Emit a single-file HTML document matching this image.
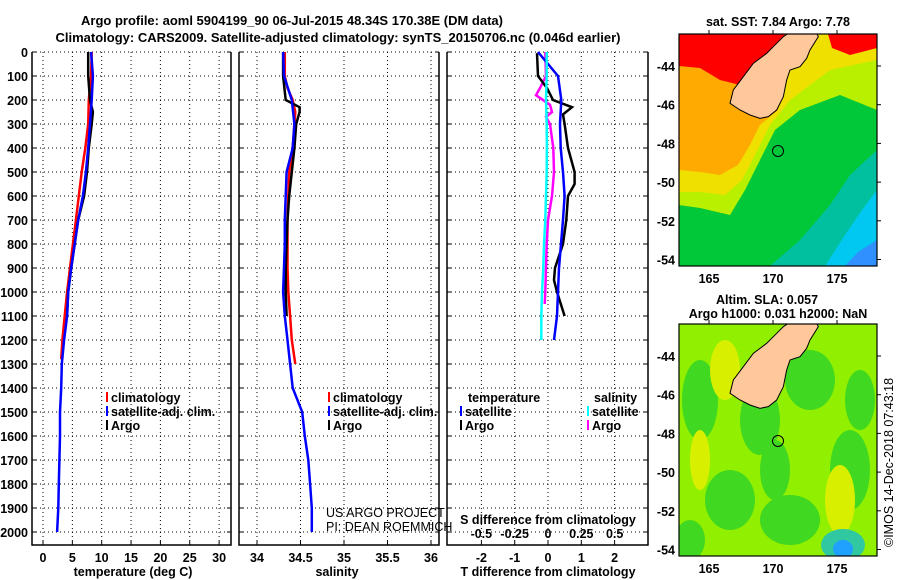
<!DOCTYPE html>
<html><head><meta charset="utf-8"><style>
body{margin:0;background:#fff;}
svg{display:block;font-family:"Liberation Sans",Arial,sans-serif;}
.b{font-weight:bold;font-size:13px;}
.t{font-weight:bold;font-size:12.5px;}
</style></head><body>
<svg id="c" width="900" height="580" viewBox="0 0 900 580">
<g id="maps"></g>
<g id="plots"></g>
<text class="b" x="292" y="25" text-anchor="middle">Argo profile: aoml 5904199_90 06-Jul-2015 48.34S 170.38E (DM data)</text>
<text class="b" x="338" y="42" text-anchor="middle">Climatology: CARS2009. Satellite-adjusted climatology: synTS_20150706.nc (0.046d earlier)</text>
</svg>
<script>
// ---- data ----
const tDepth=[0,100,200,250,300,400,500,600,700,800,900,1000,1100];
const tArgo=[7.7,7.7,8.0,8.5,8.3,7.8,7.5,7.0,6.0,5.4,4.8,4.3,4.1];
const tClimDepth=[0,100,200,300,400,500,600,700,800,900,1000,1100,1200,1280];
const tClim=[8.3,8.2,7.8,7.7,7.2,6.6,6.1,5.6,5.1,4.6,4.1,3.7,3.3,3.1];
const satDepth=[0,100,200,300,400,500,600,700,800,900,1000,1100,1200,1300,1400,1500,1600,1700,1800,1900,2000];
const tSat=[8.2,8.5,8.3,8.0,7.7,7.3,6.8,6.0,5.4,4.8,4.3,4.1,3.6,3.2,3.1,2.9,2.9,2.8,2.7,2.6,2.4];
const sArgoDepth=[0,100,200,230,250,300,400,500,600,700,800,900,1000,1100];
const sArgo=[34.30,34.30,34.33,34.49,34.49,34.45,34.43,34.40,34.37,34.35,34.34,34.33,34.33,34.34];
const sClimDepth=[0,100,150,200,250,300,400,500,600,700,800,900,1000,1100,1200,1300];
const sClim=[34.32,34.32,34.35,34.41,34.44,34.43,34.41,34.37,34.36,34.35,34.35,34.35,34.36,34.38,34.40,34.44];
const sSat=[34.30,34.31,34.40,34.43,34.41,34.34,34.33,34.32,34.32,34.31,34.30,34.32,34.35,34.38,34.41,34.52,34.55,34.59,34.61,34.63,34.63];
const dtArgoDepth=[5,100,150,200,230,260,300,400,500,550,600,700,800,900,950,1000,1100];
const dtArgo=[-0.33,-0.3,-0.03,0.15,0.72,0.45,0.5,0.6,0.8,0.8,0.6,0.55,0.45,0.21,0.18,0.27,0.5];
const dtSatDepth=[0,100,200,300,400,500,600,700,800,900,1000,1100,1200];
const dtSat=[-0.3,0.3,0.4,0.36,0.38,0.45,0.5,0.45,0.39,0.33,0.3,0.27,0.18];
const dsArgoDepth=[0,100,150,180,220,250,270,300,400,500,600,700,800,900,1000,1050];
const dsArgo=[-0.02,-0.015,-0.06,-0.09,0.015,0.03,-0.015,0.015,0.04,0.045,0.03,0,-0.01,-0.015,-0.02,-0.025];
const dsSatDepth=[0,100,200,300,400,500,600,700,800,900,1000,1100,1200];
const dsSat=[-0.01,-0.01,-0.015,-0.01,-0.008,-0.01,-0.015,-0.02,-0.03,-0.035,-0.045,-0.05,-0.05];
const depthTicks=[0,100,200,300,400,500,600,700,800,900,1000,1100,1200,1300,1400,1500,1600,1700,1800,1900,2000];
const tTicks=[0,5,10,15,20,25,30];
const sTicks=[34,34.5,35,35.5,36];
const sTickLabels=["34","34.5","35","35.5","36"];
const dTicks=[-2,-1,0,1,2];
const dsTicks=[-0.5,-0.25,0,0.25,0.5];
const dsTickLabels=["-0.5","-0.25","0","0.25","0.5"];
const lonTicks=[165,170,175];
const latTicks=[-44,-46,-48,-50,-52,-54];

const NS="http://www.w3.org/2000/svg";
function mk(tag,at,parent){const e=document.createElementNS(NS,tag);for(const k in at)e.setAttribute(k,at[k]);parent.appendChild(e);return e;}
const plots=document.getElementById('plots');
const TOP=52,BOT=545;
const yD=d=>TOP+d*0.24;
const panels=[
 {x0:32,x1:231,f:v=>43+v*5.87,ticks:tTicks,labels:tTicks.map(String),title:"temperature (deg C)",tx:133},
 {x0:239,x1:439,f:v=>257+(v-34)*87,ticks:sTicks,labels:sTickLabels,title:"salinity",tx:337},
 {x0:447,x1:648,f:v=>548+v*33.3,ticks:dTicks,labels:dTicks.map(String),title:"T difference from climatology",tx:548}
];
const fS=v=>548+v*133.3;
panels.forEach((p,i)=>{
 const g=mk('g',{},plots);
 
 
 depthTicks.forEach(d=>{
  const y=yD(d);
  const l=mk('line',{x1:p.x0,x2:p.x1,y1:y,y2:y,stroke:'#000','stroke-width':1,'stroke-dasharray':'1,3'},g);
  
  
  mk('line',{x1:p.x0,x2:p.x0+4,y1:y,y2:y,stroke:'#000'},g);
  mk('line',{x1:p.x1-4,x2:p.x1,y1:y,y2:y,stroke:'#000'},g);
  if(i===0){const t=mk('text',{x:28,y:y+5,'text-anchor':'end',class:'t'},g);t.textContent=d;
   }
 });
 p.ticks.forEach((v,k)=>{
  const x=p.f(v);
  mk('line',{x1:x,x2:x,y1:TOP,y2:BOT,stroke:'#000','stroke-width':1,'stroke-dasharray':'1,3'},g);
  mk('line',{x1:x,x2:x,y1:BOT-4,y2:BOT,stroke:'#000'},g);
  const t=mk('text',{x:x,y:BOT+17,'text-anchor':'middle',class:'t'},g);t.textContent=p.labels[k];
  
 });
 const tt=mk('text',{x:p.tx,y:576,'text-anchor':'middle',class:'t'},g);tt.textContent=p.title;
 
 mk('path',{d:`M${p.x0},${TOP}V${BOT}H${p.x1}V${TOP}`,fill:'none',stroke:'#000','stroke-width':1.5},g);
 p.g=g;
});
function line(g,depths,vals,f,color,name){
 const pts=depths.map((d,k)=>f(vals[k]).toFixed(1)+','+yD(d).toFixed(1)).join(' ');
 const e=mk('polyline',{points:pts,fill:'none',stroke:color,'stroke-width':2.5},g);
 
 
}
const P=panels;
line(P[0].g,tClimDepth,tClim,P[0].f,'#ff0000','temp-climatology-line');
line(P[0].g,tDepth,tArgo,P[0].f,'#000','temp-argo-line');
line(P[0].g,satDepth,tSat,P[0].f,'#0000ff','temp-satellite-line');
line(P[1].g,sClimDepth,sClim,P[1].f,'#ff0000','sal-climatology-line');
line(P[1].g,sArgoDepth,sArgo,P[1].f,'#000','sal-argo-line');
line(P[1].g,satDepth,sSat,P[1].f,'#0000ff','sal-satellite-line');
line(P[2].g,dsArgoDepth,dsArgo,fS,'#ff00ff','sdiff-argo-line');
line(P[2].g,dtArgoDepth,dtArgo,P[2].f,'#000','tdiff-argo-line');
line(P[2].g,dtSatDepth,dtSat,P[2].f,'#0000ff','tdiff-satellite-line');
line(P[2].g,dsSatDepth,dsSat,fS,'#00ffff','sdiff-satellite-line');
const sg=P[2].g;
const st=mk('text',{x:548,y:524,'text-anchor':'middle',class:'t'},sg);st.textContent='S difference from climatology';

dsTicks.forEach((v,k)=>{const t=mk('text',{x:fS(v),y:538,'text-anchor':'middle',class:'t'},sg);t.textContent=dsTickLabels[k];
 });
function leg(g,x,y,color,label,name){
 const gg=mk('g',{},g);
 if(color)mk('rect',{x:x,y:y-10,width:2,height:10,fill:color},gg);
 const t=mk('text',{x:x+5,y:y,class:'t'},gg);t.textContent=label;
}
leg(P[0].g,106,402,'#ff0000','climatology','legend-climatology');
leg(P[0].g,106,416,'#0000ff','satellite-adj. clim.','legend-satellite');
leg(P[0].g,106,430,'#000','Argo','legend-argo');
leg(P[1].g,328,402,'#ff0000','climatology','legend-climatology');
leg(P[1].g,328,416,'#0000ff','satellite-adj. clim.','legend-satellite');
leg(P[1].g,328,430,'#000','Argo','legend-argo');
leg(P[2].g,463,402,null,'temperature','legend-temperature-heading');
leg(P[2].g,460,416,'#0000ff','satellite','legend-t-satellite');
leg(P[2].g,460,430,'#000','Argo','legend-t-argo');
leg(P[2].g,589,402,null,'salinity','legend-salinity-heading');
leg(P[2].g,587,416,'#00ffff','satellite','legend-s-satellite');
leg(P[2].g,587,430,'#ff00ff','Argo','legend-s-argo');
const c1=mk('text',{x:326,y:517,'font-size':'12.5px'},plots);c1.textContent='US ARGO PROJECT';

const c2=mk('text',{x:326,y:531,'font-size':'12.5px'},plots);c2.textContent='PI: DEAN ROEMMICH';


// ---- maps ----
const maps=document.getElementById('maps');
const landZ=[[415,100],[500,100],[505,110],[480,150],[470,175],[450,200],[420,210],[410,240],[400,290],[380,330],[355,350],[330,355],[300,345],[270,330],[240,310],[250,270],[280,230],[310,190],[350,160],[380,130],[400,110]];
function poly(g,pts,fill,dy){return mk('polygon',{points:pts.map(p=>p[0]+','+(p[1]+dy)).join(' '),fill:fill},g);}
function drawMap(top,kind,name){
 const g=mk('g',{},maps);
 const L=679,W=198,H=232,dy=top-34;
 const cid='clip'+top;
 const cp=mk('clipPath',{id:cid},g);mk('rect',{x:L,y:top,width:W,height:H},cp);
 const inner=mk('g',{'clip-path':`url(#${cid})`},g);
 if(kind==='sst'){
  mk('rect',{x:L,y:top,width:W,height:H,fill:'#00c838'},inner);
  poly(inner,[[679,34],[877,34],[877,110],[840,95],[800,110],[775,130],[760,160],[745,190],[730,215],[700,208],[679,205]],'#b8f000',dy);
  poly(inner,[[679,34],[877,34],[877,60],[830,70],[790,100],[770,125],[755,155],[742,180],[725,195],[700,192],[679,192]],'#f0e000',dy);
  poly(inner,[[679,34],[800,34],[778,110],[760,125],[750,145],[738,165],[720,175],[700,172],[679,170]],'#ffaa00',dy);
  poly(inner,[[679,34],[785,34],[770,60],[755,80],[740,85],[720,80],[700,68],[679,66]],'#ff0000',dy);
  poly(inner,[[828,34],[877,34],[877,48],[850,55],[832,48]],'#ff0000',dy);
  poly(inner,[[877,150],[877,266],[770,266],[800,240],[830,205],[850,175]],'#00c0a0',dy);
  poly(inner,[[877,190],[877,266],[825,266],[845,235],[862,210]],'#00c8f0',dy);
  poly(inner,[[877,240],[877,266],[845,266],[858,252]],'#3090ff',dy);
 } else {
  mk('rect',{x:L,y:top,width:W,height:H,fill:'#90f000'},inner);
  [[700,400,18,40],[760,420,20,35],[810,380,25,30],[850,470,20,40],[730,500,25,30],[790,520,30,25],[690,540,15,20],[860,400,15,30],[775,470,15,30]].forEach(e=>mk('ellipse',{cx:e[0],cy:e[1],rx:e[2],ry:e[3],fill:'#40d820'},inner));
  [[725,370,15,30],[840,500,15,35],[700,460,10,30]].forEach(e=>mk('ellipse',{cx:e[0],cy:e[1],rx:e[2],ry:e[3],fill:'#d8f000'},inner));
  mk('ellipse',{cx:843,cy:545,rx:22,ry:16,fill:'#30c8a0'},inner);
  mk('ellipse',{cx:843,cy:549,rx:10,ry:9,fill:'#20a0ff'},inner);
 }
 const land=poly(inner,landZ.map(p=>[650+p[0]/3,p[1]/3]),'#ffc89a',dy);
 land.setAttribute('stroke','#000');
 land.setAttribute('stroke-width','1');
 
 
 mk('circle',{cx:778,cy:151+dy,r:5.5,fill:'none',stroke:'#000','stroke-width':1},inner);
 mk('rect',{x:L,y:top,width:W,height:H,fill:'none',stroke:'#000','stroke-width':1.2},g);
 const lx=v=>709+(v-165)*12.8, ly=v=>66+dy+(-44-v)*19.35;
 lonTicks.forEach(v=>{const x=lx(v);mk('line',{x1:x,x2:x,y1:top,y2:top-4,stroke:'#000'},g);
  const t=mk('text',{x:x,y:top+H+17,'text-anchor':'middle',class:'t'},g);t.textContent=v;
  });
 latTicks.forEach(v=>{const y=ly(v);mk('line',{x1:L+W,x2:L+W+4,y1:y,y2:y,stroke:'#000'},g);
  const t=mk('text',{x:675,y:y+5,'text-anchor':'end',class:'t'},g);t.textContent=v;
  });
}
drawMap(34,'sst','sst-map');
drawMap(324,'sla','sla-map');
const m1=mk('text',{x:778,y:26,'text-anchor':'middle',class:'t'},maps);m1.textContent='sat. SST: 7.84 Argo: 7.78';

const m2=mk('text',{x:767,y:304,'text-anchor':'middle',class:'t'},maps);m2.textContent='Altim. SLA: 0.057';

const m3=mk('text',{x:778,y:318,'text-anchor':'middle',class:'t'},maps);m3.textContent='Argo h1000: 0.031 h2000: NaN';

const cr=mk('text',{x:0,y:0,'font-size':'12.5px',transform:'translate(893,547) rotate(-90)'},maps);cr.textContent='©IMOS 14-Dec-2018 07:43:18';

</script>
</body></html>
